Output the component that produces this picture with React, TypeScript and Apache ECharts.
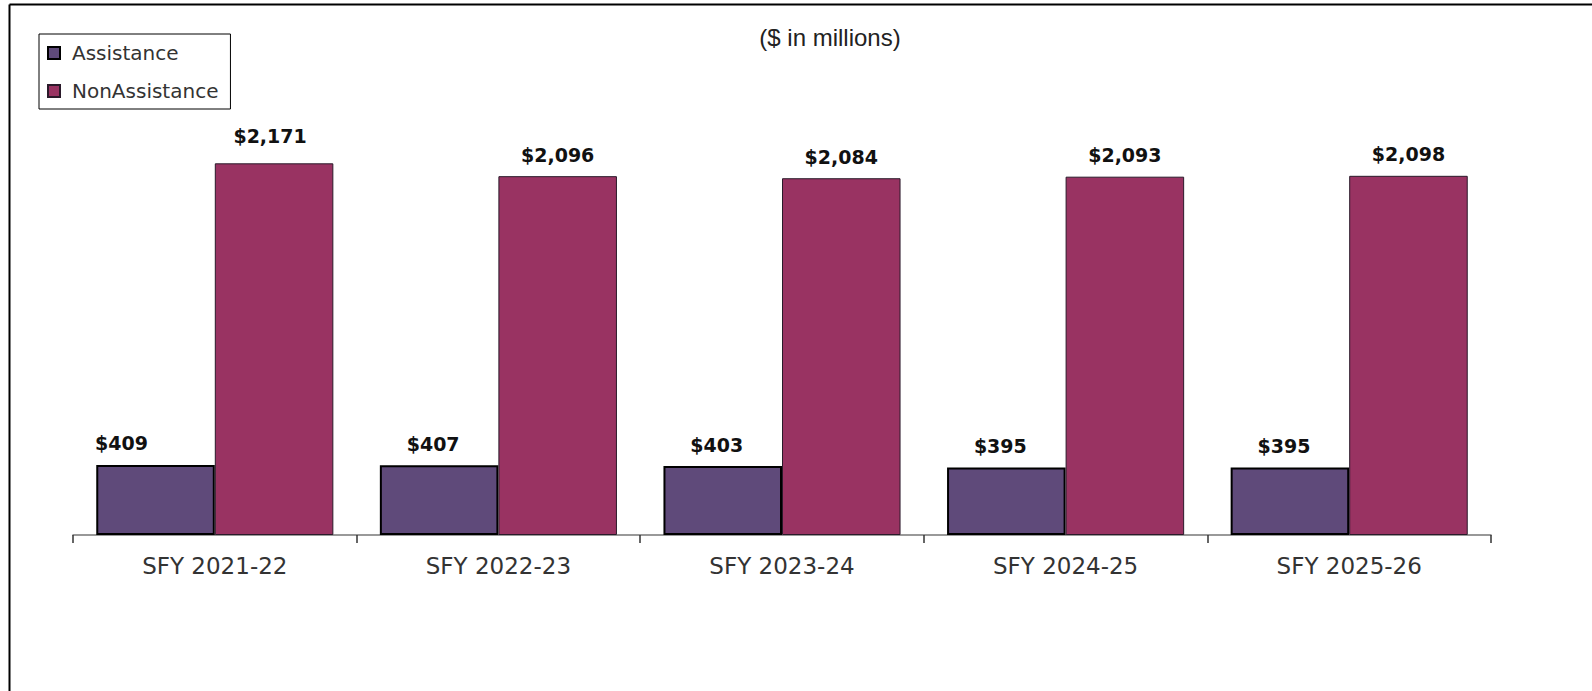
import React, { useEffect, useRef } from "react";
import * as echarts from "echarts";

const categories = ["SFY 2021-22", "SFY 2022-23", "SFY 2023-24", "SFY 2024-25", "SFY 2025-26"];
const assistance = [409, 407, 403, 395, 395];
const nonAssistance = [2171, 2096, 2084, 2093, 2098];
const seriesNames = ["Assistance", "NonAssistance"];
const subtitle = "($ in millions)";

const fmt = (v: number) => "$" + v.toLocaleString("en-US");

export default function App() {
  const ref = useRef<HTMLDivElement>(null);
  useEffect(() => {
    if (!ref.current) return;
    const chart = echarts.init(ref.current, undefined, { renderer: "svg" });
    const labelFont = "'DejaVu Sans', sans-serif";
    chart.setOption({
      animation: false,
      backgroundColor: "#ffffff",
      textStyle: { fontFamily: labelFont },
      graphic: [
        { type: "line", shape: { x1: 9.5, y1: 4.5, x2: 1592, y2: 4.5 }, style: { stroke: "#000", lineWidth: 2 } },
        { type: "line", shape: { x1: 9.5, y1: 4.5, x2: 9.5, y2: 691 }, style: { stroke: "#000", lineWidth: 2 } },
        {
          type: "text",
          x: 830,
          y: 37,
          style: {
            text: subtitle,
            fill: "#222",
            font: "24px 'Liberation Sans', Arial, sans-serif",
            textAlign: "center",
            textVerticalAlign: "middle",
          },
        },
      ],
      legend: {
        orient: "vertical",
        left: 39,
        top: 34,
        padding: [8, 12, 7, 8],
        itemGap: 16,
        itemWidth: 12,
        itemHeight: 12,
        borderColor: "#000",
        borderWidth: 1,
        icon: "rect",
        data: seriesNames,
        textStyle: { fontSize: 20, color: "#333", fontFamily: labelFont, padding: [0, 0, 0, 7], lineHeight: 22 },
      },
      grid: { left: 73, right: 101, top: 107, bottom: 156, containLabel: false },
      xAxis: {
        type: "category",
        data: categories,
        axisLine: { show: true, lineStyle: { color: "#777", width: 1.5 } },
        axisTick: { show: true, length: 8, alignWithLabel: false, lineStyle: { color: "#333", width: 1.5 } },
        axisLabel: { fontSize: 23, color: "#333", margin: 19, fontFamily: labelFont },
      },
      yAxis: {
        type: "value",
        min: 0,
        max: 2500,
        show: false,
        splitLine: { show: false },
      },
      series: [
        {
          name: seriesNames[0],
          type: "bar",
          barGap: "0%",
          barCategoryGap: "16.4%",
          itemStyle: { color: "#5f4a7a", borderColor: "#000", borderWidth: 2 },
          label: {
            show: true,
            position: "top",
            distance: 12,
            formatter: (p: any) => fmt(p.value),
            fontSize: 19,
            fontWeight: "bold",
            color: "#111",
            fontFamily: labelFont,
          },
          data: assistance.map((v, i) => ({ value: v, label: { offset: [i === 0 ? -34 : -6, 0] } })),
        },
        {
          name: seriesNames[1],
          type: "bar",
          barGap: "0%",
          barCategoryGap: "16.4%",
          itemStyle: { color: "#993362", borderColor: "#2a1a2a", borderWidth: 1 },
          label: {
            show: true,
            position: "top",
            distance: 12,
            formatter: (p: any) => fmt(p.value),
            fontSize: 19,
            fontWeight: "bold",
            color: "#111",
            fontFamily: labelFont,
          },
          data: nonAssistance.map((v, i) => ({ value: v, label: { offset: i === 0 ? [-4, -6] : [0, 0] } })),
        },
      ],
    });
    return () => chart.dispose();
  }, []);
  return (
    <div
      ref={ref}
      style={{ position: "fixed", left: 0, top: 0, width: 1592, height: 691, background: "#fff" }}
    />
  );
}
